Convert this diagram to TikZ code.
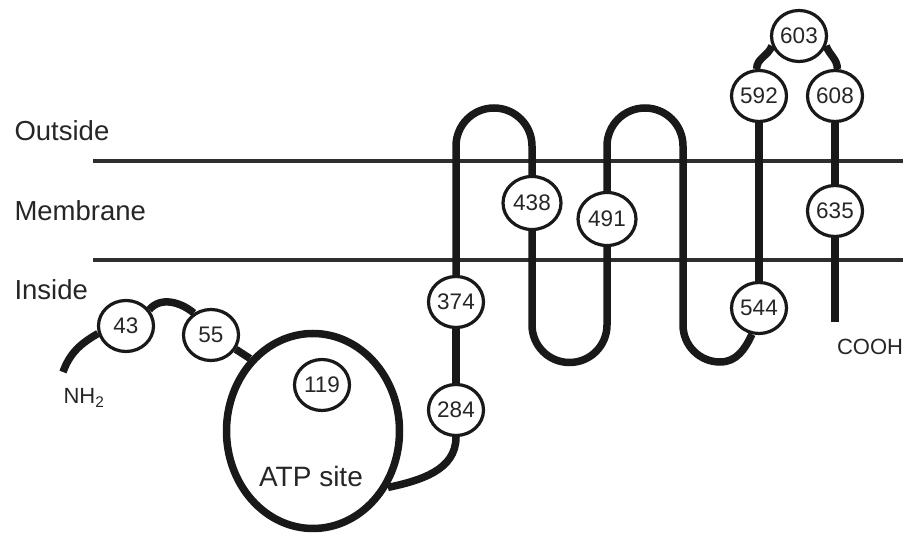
\documentclass[tikz,border=0pt]{standalone}
\usepackage{fontspec}
\setmainfont{Liberation Sans}
\usetikzlibrary{shapes.geometric}

\begin{document}
\begin{tikzpicture}[x=1pt, y=1pt,
  residue/.style={ellipse, draw=black!90, line width=3.2pt, fill=white,
    minimum width=55pt, minimum height=51pt, inner sep=0pt,
    text=black!85, font=\fontsize{22.5}{22.5}\selectfont},
  strand/.style={line width=7.5pt, black!90},
  layer/.style={line width=3.2pt, black!82},
  side/.style={anchor=west, text=black!85, font=\fontsize{27.5}{27.5}\selectfont},
  tag/.style={text=black!85, font=\fontsize{22}{22}\selectfont}]
  \useasboundingbox (0,0) rectangle (908,538);

  \node[side] (Outside)  at (11,407) {Outside};
  \node[side] (Membrane) at (11,327) {Membrane};
  \node[side] (Inside)   at (11,248) {Inside};
  \coordinate (TopL) at (93,377);   \coordinate (TopR) at (903,377);
  \coordinate (BotL) at (93,278);   \coordinate (BotR) at (903,278);
  \draw[layer] (TopL) -- (TopR);
  \draw[layer] (BotL) -- (BotR);

  \node[ellipse, draw=black!90, line width=7.5pt, minimum width=173pt,
        minimum height=195pt] (Atp) at (313,107) {};
  \node[font=\fontsize{28}{28}\selectfont, text=black!85] (AtpSite) at (311,62) {ATP site};
  \node[residue] (R43)  at (126,212) {43};
  \node[residue] (R55)  at (211,203) {55};
  \node[residue] (R119) at (322,153) {119};
  \node[residue] (R284) at (456,128) {284};
  \node[residue] (R374) at (456,236) {374};
  \node[residue, minimum width=58pt, minimum height=53pt] (R438) at (532,335) {438};
  \node[residue, minimum width=58pt, minimum height=53pt] (R491) at (607,319) {491};
  \node[residue] (R544) at (759,230) {544};
  \node[residue] (R592) at (759,442) {592};
  \node[residue] (R603) at (799,502) {603};
  \node[residue] (R608) at (835,442) {608};
  \node[residue] (R635) at (835,327) {635};

  \coordinate (NhEnd)   at (63,166);
  \coordinate (CoohEnd) at (835,216);
  \node[tag] (Nh)   at (84,140) {NH\textsubscript{2}};
  \node[tag] (Cooh) at (870,191) {COOH};

  \path[strand] (NhEnd) edge[out=70, in=-150] (R43.195)
    (R43.35) edge[out=50, in=140] (R55.128)
    (R55.-30) edge (Atp.131)
    (Atp.-37) edge[out=12, in=-90] (R284.south)
    (R284) edge (R374)
    (R544) edge (R592)
    (R608) edge (R635)
    (R635) edge (CoohEnd);
  \draw[strand] (R374.north) -- (456,392) arc(180:0:38) -- (R438.north);
  \draw[strand] (R438.south) -- (532,213) arc(180:360:37.5) -- (R491.south);
  \draw[strand] (R491.north) -- (607,392) arc(180:0:38) -- (683,213)
    arc(180:270:37) to[out=0, in=-115] (R544.255);
  \draw[strand] (R592.95) to[out=90, in=-110] (R603.200);
  \draw[strand] (R603.-20) to[out=-70, in=90] (R608.85);
\end{tikzpicture}
\end{document}
